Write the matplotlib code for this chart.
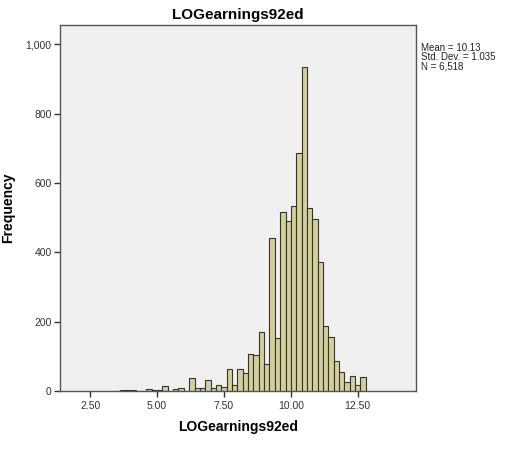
import numpy as np
import matplotlib
matplotlib.use("Agg")
import matplotlib.pyplot as plt
from matplotlib.ticker import FuncFormatter

# histogram counts, bins of width 0.2 starting at 3.4
bin_edges = np.round(np.arange(3.4, 12.81, 0.2), 1)
counts = [1, 2, 3, 2, 1, 0, 6, 2, 3, 16,
          1, 5, 10, 1, 37, 8, 10, 33, 10, 18,
          11, 63, 18, 63, 53, 108, 103, 171, 79, 442,
          152, 517, 490, 535, 686, 935, 527, 495, 371, 187,
          157, 86, 56, 25, 43, 17, 41]
x_ticks = [2.5, 5.0, 7.5, 10.0, 12.5]
y_ticks = [0, 200, 400, 600, 800, 1000]
stats = ["Mean = 10.13", "Std. Dev. = 1.035", "N = 6,518"]

plt.rcParams['font.family'] = ['Liberation Sans', 'DejaVu Sans']

fig = plt.figure(figsize=(5.08, 4.5), dpi=100)
ax = fig.add_axes([0.118, 0.131, 0.700, 0.8144])
ax.set_facecolor("#f0f0f0")

ax.bar(bin_edges[:-1], counts, width=np.diff(bin_edges), align='edge',
       color="#d4cf98", edgecolor="#333333", linewidth=0.8)

ax.set_xlim(1.37, 14.66)
ax.set_ylim(0, 1057)
ax.set_xticks(x_ticks)
ax.set_yticks(y_ticks)
ax.xaxis.set_major_formatter(FuncFormatter(lambda v, p: f"{v:.2f}"))
ax.yaxis.set_major_formatter(FuncFormatter(lambda v, p: f"{int(v):,}"))
ax.tick_params(labelsize=7.5, colors="#333333", length=4, width=1,
               labelcolor="#333333", pad=2)
ax.tick_params(axis="x", pad=3)

for s in ax.spines.values():
    s.set_color("#555555")
    s.set_linewidth(1)

ax.set_title("LOGearnings92ed", fontsize=11, fontweight="bold", pad=4)
ax.set_xlabel("LOGearnings92ed", fontsize=10, fontweight="bold")
ax.set_ylabel("Frequency", fontsize=10, fontweight="bold")
ax.xaxis.set_label_coords(0.5, -0.078)
ax.yaxis.set_label_coords(-0.127, 0.5)

fig.text(0.828, 0.905, "\n".join(stats), fontsize=7, va="top", ha="left",
         linespacing=0.9, color="#222222")

fig.savefig("out.png", dpi=100, facecolor="white")
